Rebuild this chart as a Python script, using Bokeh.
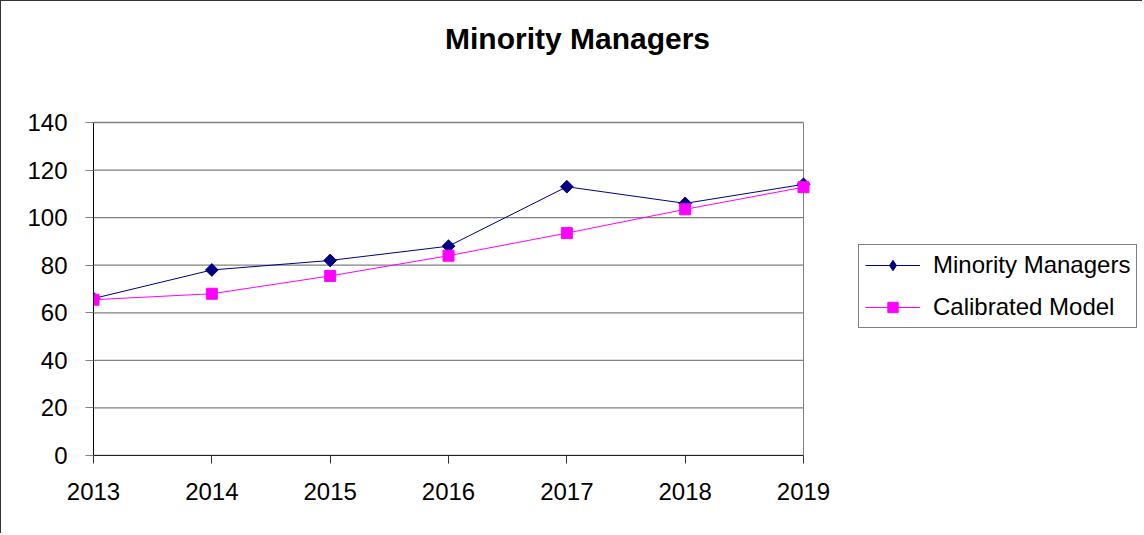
import numpy as np
from bokeh.plotting import figure
from bokeh.models import Range1d, FixedTicker, Legend, LegendItem, Label
from bokeh.embed import file_html
from bokeh.resources import INLINE

years = [2013, 2014, 2015, 2016, 2017, 2018, 2019]
minority = [66, 78, 82, 88, 113, 106, 114]
calibrated = [65.5, 68, 75.5, 84, 93.5, 103.5, 112.8]
y_ticks = [0, 20, 40, 60, 80, 100, 120, 140]
title_text = "Minority Managers"
series_names = ["Minority Managers", "Calibrated Model"]

FONT = "Liberation Sans"

# canvas geometry (pixels)
W, H = 1142, 533
left, right = 92, W - 2          # frame edges
top, bottom = 4, 454
x_px_2019 = 802                  # where the last year sits
y_px_140 = 121                   # where the top tick sits

x0, x1 = years[0], years[-1]
ppx = (x_px_2019 - left) / (x1 - x0)
x_end = x0 + (right - left) / ppx
y0, y1 = y_ticks[0], y_ticks[-1]
ppy = (bottom - y_px_140) / (y1 - y0)
y_end = y0 + (bottom - top) / ppy

p = figure(width=W, height=H, output_backend="svg", toolbar_location=None,
           x_range=Range1d(x0, x_end), y_range=Range1d(y0, y_end),
           min_border_left=left, min_border_top=top, min_border_right=W - right,
           min_border_bottom=H - bottom)
p.styles = {"border-top": "1px solid #333333", "border-left": "1px solid #333333"}
p.background_fill_color = "white"
p.border_fill_color = "white"
p.outline_line_color = None
p.xgrid.visible = False
p.ygrid.visible = False

# horizontal gridlines and right edge of the plot area
p.segment(x0=[x0] * len(y_ticks), x1=[x1] * len(y_ticks), y0=y_ticks, y1=y_ticks,
          line_color="#808080", line_width=1.3)
p.segment(x0=[x1], x1=[x1], y0=[y0], y1=[y1], line_color="#808080", line_width=1)

p.xaxis.ticker = FixedTicker(ticks=years)
p.yaxis.ticker = FixedTicker(ticks=y_ticks)
p.xaxis.bounds = (x0, x1)
p.yaxis.bounds = (y0, y1)
p.xaxis.minor_tick_line_color = None
p.yaxis.minor_tick_line_color = None
p.xaxis.major_tick_in = 0
p.yaxis.major_tick_in = 0
p.xaxis.major_tick_out = 8
p.yaxis.major_tick_out = 8
p.yaxis.major_tick_line_color = "#808080"
p.xaxis.major_tick_line_color = "#333333"
p.xaxis.axis_line_color = "#222222"
p.yaxis.axis_line_color = "black"
for ax in (p.xaxis, p.yaxis):
    ax.major_label_text_font = FONT
    ax.major_label_text_font_size = "24px"
    ax.major_label_text_color = "black"
p.xaxis.major_label_standoff = 19
p.yaxis.major_label_standoff = 18

l1 = p.line(years, minority, line_color="#000080", line_width=1)
# diamond used for the legend; hidden under the rotated squares on the plot
d1 = p.scatter(years, minority, marker="diamond", size=11,
               fill_color="#000080", line_color="#000080")
s1 = p.scatter(years, minority, marker="square", angle=np.pi / 4, size=9,
               fill_color="#000080", line_color="#000080")
l2 = p.line(years, calibrated, line_color="#FF00FF", line_width=1)
s2 = p.scatter(years, calibrated, marker="square", size=11,
               fill_color="#FF00FF", line_color="#FF00FF")

legend = Legend(items=[LegendItem(label=series_names[0], renderers=[l1, d1]),
                       LegendItem(label=series_names[1], renderers=[l2, s2])],
                location=(765, 127), orientation="vertical")
legend.label_text_font = FONT
legend.label_text_font_size = "24px"
legend.label_text_color = "black"
legend.glyph_width = 55
legend.glyph_height = 26
legend.label_height = 26
legend.label_standoff = 13
legend.spacing = 14
legend.padding = 6
legend.margin = 0
legend.border_line_color = "black"
legend.border_line_width = 1
legend.background_fill_color = "white"
legend.background_fill_alpha = 1
p.add_layout(legend, "center")

title = Label(x=484, y=417, x_units="screen", y_units="screen", text=title_text,
              text_align="center", text_baseline="alphabetic",
              text_font=FONT, text_font_size="30px", text_font_style="bold",
              text_color="black")
p.add_layout(title)

open("out.html", "w").write(file_html(p, INLINE))
